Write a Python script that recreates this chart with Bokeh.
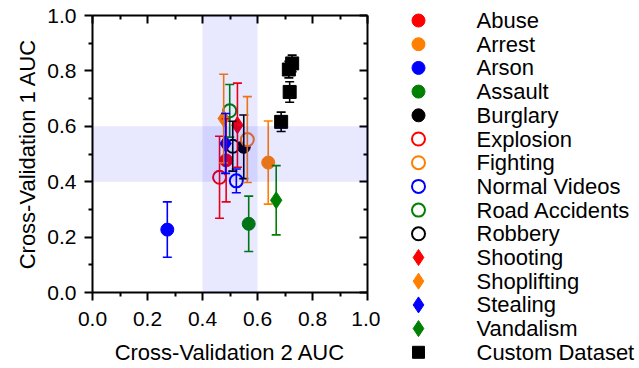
from bokeh.plotting import figure
from bokeh.layouts import row
from bokeh.models import (ColumnDataSource, Whisker, TeeHead, BoxAnnotation,
                          LinearAxis, FixedTicker, Range1d)
from bokeh.core.properties import value
from bokeh.embed import file_html
from bokeh.resources import INLINE

# ---------------- data ----------------
names = ["Abuse", "Arrest", "Arson", "Assault", "Burglary", "Explosion", "Fighting",
         "Normal Videos", "Road Accidents", "Robbery", "Shooting", "Shoplifting",
         "Stealing", "Vandalism", "Custom Dataset"]
cv2_auc = [[0.486], [0.639], [0.272], [0.568], [0.550], [0.462], [0.563],
           [0.523], [0.499], [0.510], [0.527], [0.477], [0.484], [0.668],
           [0.714, 0.726, 0.717, 0.686]]
cv1_auc = [[0.477], [0.469], [0.227], [0.248], [0.526], [0.416], [0.552],
           [0.403], [0.656], [0.528], [0.604], [0.628], [0.538], [0.333],
           [0.805, 0.827, 0.724, 0.616]]
cv1_err = [[0.150], [0.150], [0.100], [0.100], [0.115], [0.148], [0.155],
           [0.043], [0.095], [0.090], [0.152], [0.160], [0.108], [0.125],
           [0.030, 0.030, 0.037, 0.035]]
colors = ["#FF0000", "#FF8000", "#0000FF", "#008000", "#000000",
          "#FF0000", "#FF8000", "#0000FF", "#008000", "#000000",
          "#FF0000", "#FF8000", "#0000FF", "#008000", "#000000"]
markers = ["circle"] * 10 + ["diamond"] * 4 + ["square"]
hollow = [False] * 5 + [True] * 5 + [False] * 5

tick_values = [0.0, 0.2, 0.4, 0.6, 0.8, 1.0]
tick_labels = ["0.0", "0.2", "0.4", "0.6", "0.8", "1.0"]
minor_values = [0.1, 0.3, 0.5, 0.7, 0.9]
band_low, band_high = 0.4, 0.6

FONT = "Liberation Sans"
MAIN_W, H = 380, 368
SIZES = {"circle": 13, "diamond": 17, "square": 13}

p = figure(width=MAIN_W, height=H, output_backend="svg", toolbar_location=None,
           x_range=Range1d(0, 1), y_range=Range1d(0, 1), frame_align=False,
           min_border_left=92, min_border_top=15, min_border_bottom=76, min_border_right=13)
p.outline_line_color = None
p.xgrid.visible = False
p.ygrid.visible = False

p.add_layout(BoxAnnotation(left=band_low, right=band_high, fill_color="#0000FF",
                           fill_alpha=0.09, line_color=None))
p.add_layout(BoxAnnotation(bottom=band_low, top=band_high, fill_color="#0000FF",
                           fill_alpha=0.09, line_color=None))

for i, nm in enumerate(names):
    ys = cv1_auc[i]
    es = cv1_err[i]
    src = ColumnDataSource(dict(x=cv2_auc[i], y=ys,
                                lo=[a - b for a, b in zip(ys, es)],
                                hi=[a + b for a, b in zip(ys, es)]))
    p.add_layout(Whisker(source=src, base="x", upper="hi", lower="lo", dimension="height",
                         line_color=colors[i], line_width=1.6, level="glyph",
                         upper_head=TeeHead(size=9, line_color=colors[i], line_width=1.6),
                         lower_head=TeeHead(size=9, line_color=colors[i], line_width=1.6)))
    p.scatter("x", "y", source=src, marker=markers[i], size=SIZES[markers[i]],
              fill_color="white" if hollow[i] else colors[i],
              line_color=colors[i], line_width=2 if hollow[i] else 1)

for ax in (p.xaxis[0], p.yaxis[0]):
    ax.ticker = FixedTicker(ticks=tick_values, minor_ticks=minor_values)
    ax.major_label_overrides = {v: s for v, s in zip(tick_values, tick_labels)}
    ax.axis_line_width = 2
    ax.major_tick_line_width = 2
    ax.minor_tick_line_width = 2
    ax.major_tick_out = 8
    ax.major_tick_in = 0
    ax.minor_tick_out = 4
    ax.minor_tick_in = 0
    ax.major_label_text_font = FONT
    ax.major_label_text_font_size = "21px"
    ax.major_label_text_color = "black"
    ax.axis_label_text_font = FONT
    ax.axis_label_text_font_size = "22px"
    ax.axis_label_text_font_style = "normal"
    ax.axis_label_text_color = "black"

p.xaxis[0].axis_label = "Cross-Validation 2 AUC"
p.yaxis[0].axis_label = "Cross-Validation 1 AUC"
p.xaxis[0].major_label_standoff = 11
p.xaxis[0].axis_label_standoff = 11
p.yaxis[0].major_label_standoff = 8
p.yaxis[0].axis_label_standoff = 4

for loc in ("above", "right"):
    ax = LinearAxis(ticker=FixedTicker(ticks=tick_values, minor_ticks=minor_values))
    ax.major_label_overrides = {v: "" for v in tick_values}
    ax.major_label_text_font_size = "4px"
    ax.major_label_standoff = 0
    ax.axis_line_width = 2
    ax.major_tick_line_width = 2
    ax.minor_tick_line_width = 2
    ax.major_tick_in = 8
    ax.major_tick_out = 0
    ax.minor_tick_in = 4
    ax.minor_tick_out = 0
    p.add_layout(ax, loc)

# ---------------- legend panel (one row per category) ----------------
LEG_W = 639 - MAIN_W
ROW = 23.7
FIRST = 20.0
idx = list(range(len(names)))
leg = figure(width=LEG_W, height=H, output_backend="svg", toolbar_location=None,
             x_range=Range1d(0, LEG_W),
             y_range=Range1d((H - FIRST) / ROW, -FIRST / ROW),
             x_axis_type=None, y_axis_type=None, frame_align=False,
             min_border_left=0, min_border_right=0, min_border_top=0, min_border_bottom=0)
leg.outline_line_color = None
leg.xgrid.visible = False
leg.ygrid.visible = False
leg_src = ColumnDataSource(dict(
    i=idx, name=names, marker=markers,
    size=[{"circle": 13, "diamond": 16, "square": 12}[m] for m in markers],
    fill=["white" if h else c for h, c in zip(hollow, colors)],
    line=colors,
    lw=[2 if h else 1 for h in hollow]))
leg.scatter(x=418 - MAIN_W, y="i", source=leg_src, marker="marker", size="size",
            fill_color="fill", line_color="line", line_width="lw")
leg.text(x=476 - MAIN_W, y="i", text="name", source=leg_src,
         text_font=value(FONT), text_font_size="22px", text_color="black",
         text_baseline="middle", text_align="left")

layout = row(p, leg, spacing=0)
open("out.html", "w").write(file_html(layout, INLINE))
